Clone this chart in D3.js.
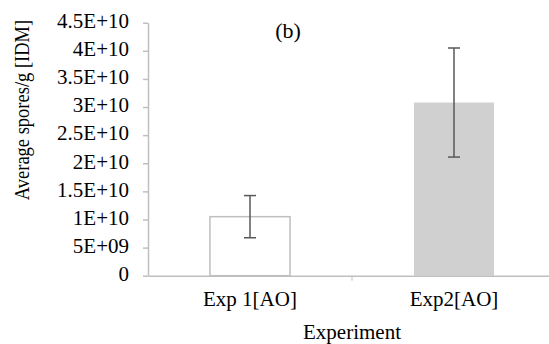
<!DOCTYPE html>
<html><head><meta charset="utf-8">
<script src="https://cdn.jsdelivr.net/npm/d3@7"></script>
<style>body{margin:0;background:#fff}svg{display:block}text{font-family:"Liberation Serif","Times New Roman",serif;fill:#000}</style>
</head><body><svg id="c" width="549" height="344"></svg>
<script>
const categories = ["Exp 1[AO]", "Exp2[AO]"];
const values = [1.05e10, 3.08e10];
const errors = [3.75e9, 9.7e9];
const yTicks = [0, 5e9, 1e10, 1.5e10, 2e10, 2.5e10, 3e10, 3.5e10, 4e10, 4.5e10];
const yTickLabels = ["0", "5E+09", "1E+10", "1.5E+10", "2E+10", "2.5E+10", "3E+10", "3.5E+10", "4E+10", "4.5E+10"];
const fills = ["#ffffff", "#d0d0d0"];
const strokes = ["#bfbfbf", "none"];

const svg = d3.select("#c");
const x = d3.scaleBand().domain(categories).range([148, 556]);
const y = d3.scaleLinear().domain([0, 4.5e10]).range([275.7, 22.7]);
const fs = 21;
const ff = "Liberation Serif";

// y axis
const ya = svg.append("g").attr("transform", "translate(148,0)")
  .call(d3.axisLeft(y).tickValues(yTicks).tickFormat((d,i)=>yTickLabels[i]).tickSize(5).tickSizeOuter(0));
ya.select(".domain").attr("stroke", "#bfbfbf").attr("stroke-width", 1.5);
ya.selectAll(".tick line").attr("stroke", "#bfbfbf").attr("stroke-width", 1.5);
ya.selectAll(".tick text").attr("x", -19).attr("dy", "0.23em").style("font-size", fs + "px").style("font-family", ff).attr("fill", "#000");

// bars
const bw = x.bandwidth() * 0.4;
svg.append("g").selectAll("rect").data(categories).join("rect")
  .attr("x", (d) => x(d) + x.bandwidth()/2 - bw/2 + 0.75)
  .attr("y", (d,i) => y(values[i]))
  .attr("width", bw - 1.5)
  .attr("height", (d,i) => y(0) - y(values[i]))
  .attr("fill", (d,i) => fills[i])
  .attr("stroke", (d,i) => strokes[i])
  .attr("stroke-width", 1.5);

// x axis
const xa = svg.append("g").attr("transform", "translate(0," + y(0) + ")")
  .call(d3.axisBottom(x).tickSize(0).tickSizeOuter(0));
xa.select(".domain").attr("stroke", "#bfbfbf").attr("stroke-width", 1.5);
xa.selectAll(".tick text").attr("y", 30).attr("dy", "0").style("font-size", fs + "px").style("font-family", ff).attr("fill", "#000");
// category separator ticks
svg.append("g").selectAll("line").data(categories.slice(1)).join("line")
  .attr("x1", d => x(d)).attr("x2", d => x(d))
  .attr("y1", y(0)).attr("y2", y(0) + 5)
  .attr("stroke", "#bfbfbf").attr("stroke-width", 1);

// error bars
const eg = svg.append("g").attr("stroke", "#595959").attr("stroke-width", 1.5);
categories.forEach((c, i) => {
  const cx = x(c) + x.bandwidth()/2;
  eg.append("line").attr("x1", cx).attr("x2", cx).attr("y1", y(values[i] + errors[i])).attr("y2", y(values[i] - errors[i]));
  eg.append("line").attr("x1", cx - 6).attr("x2", cx + 6).attr("y1", y(values[i] + errors[i])).attr("y2", y(values[i] + errors[i]));
  eg.append("line").attr("x1", cx - 6).attr("x2", cx + 6).attr("y1", y(values[i] - errors[i])).attr("y2", y(values[i] - errors[i]));
});

// titles
svg.append("text").attr("x", 288).attr("y", 38).attr("text-anchor", "middle").style("font-size", "22px").style("font-family", ff).text("(b)");
svg.append("text").attr("x", 352).attr("y", 339).attr("text-anchor", "middle").style("font-size", fs + "px").style("font-family", ff).text("Experiment");
svg.append("text").attr("transform", "translate(29,110) rotate(-90) scale(1,1.12)").attr("text-anchor", "middle").style("font-size", "18.5px").style("font-family", ff).text("Average spores/g [IDM]");
</script></body></html>
